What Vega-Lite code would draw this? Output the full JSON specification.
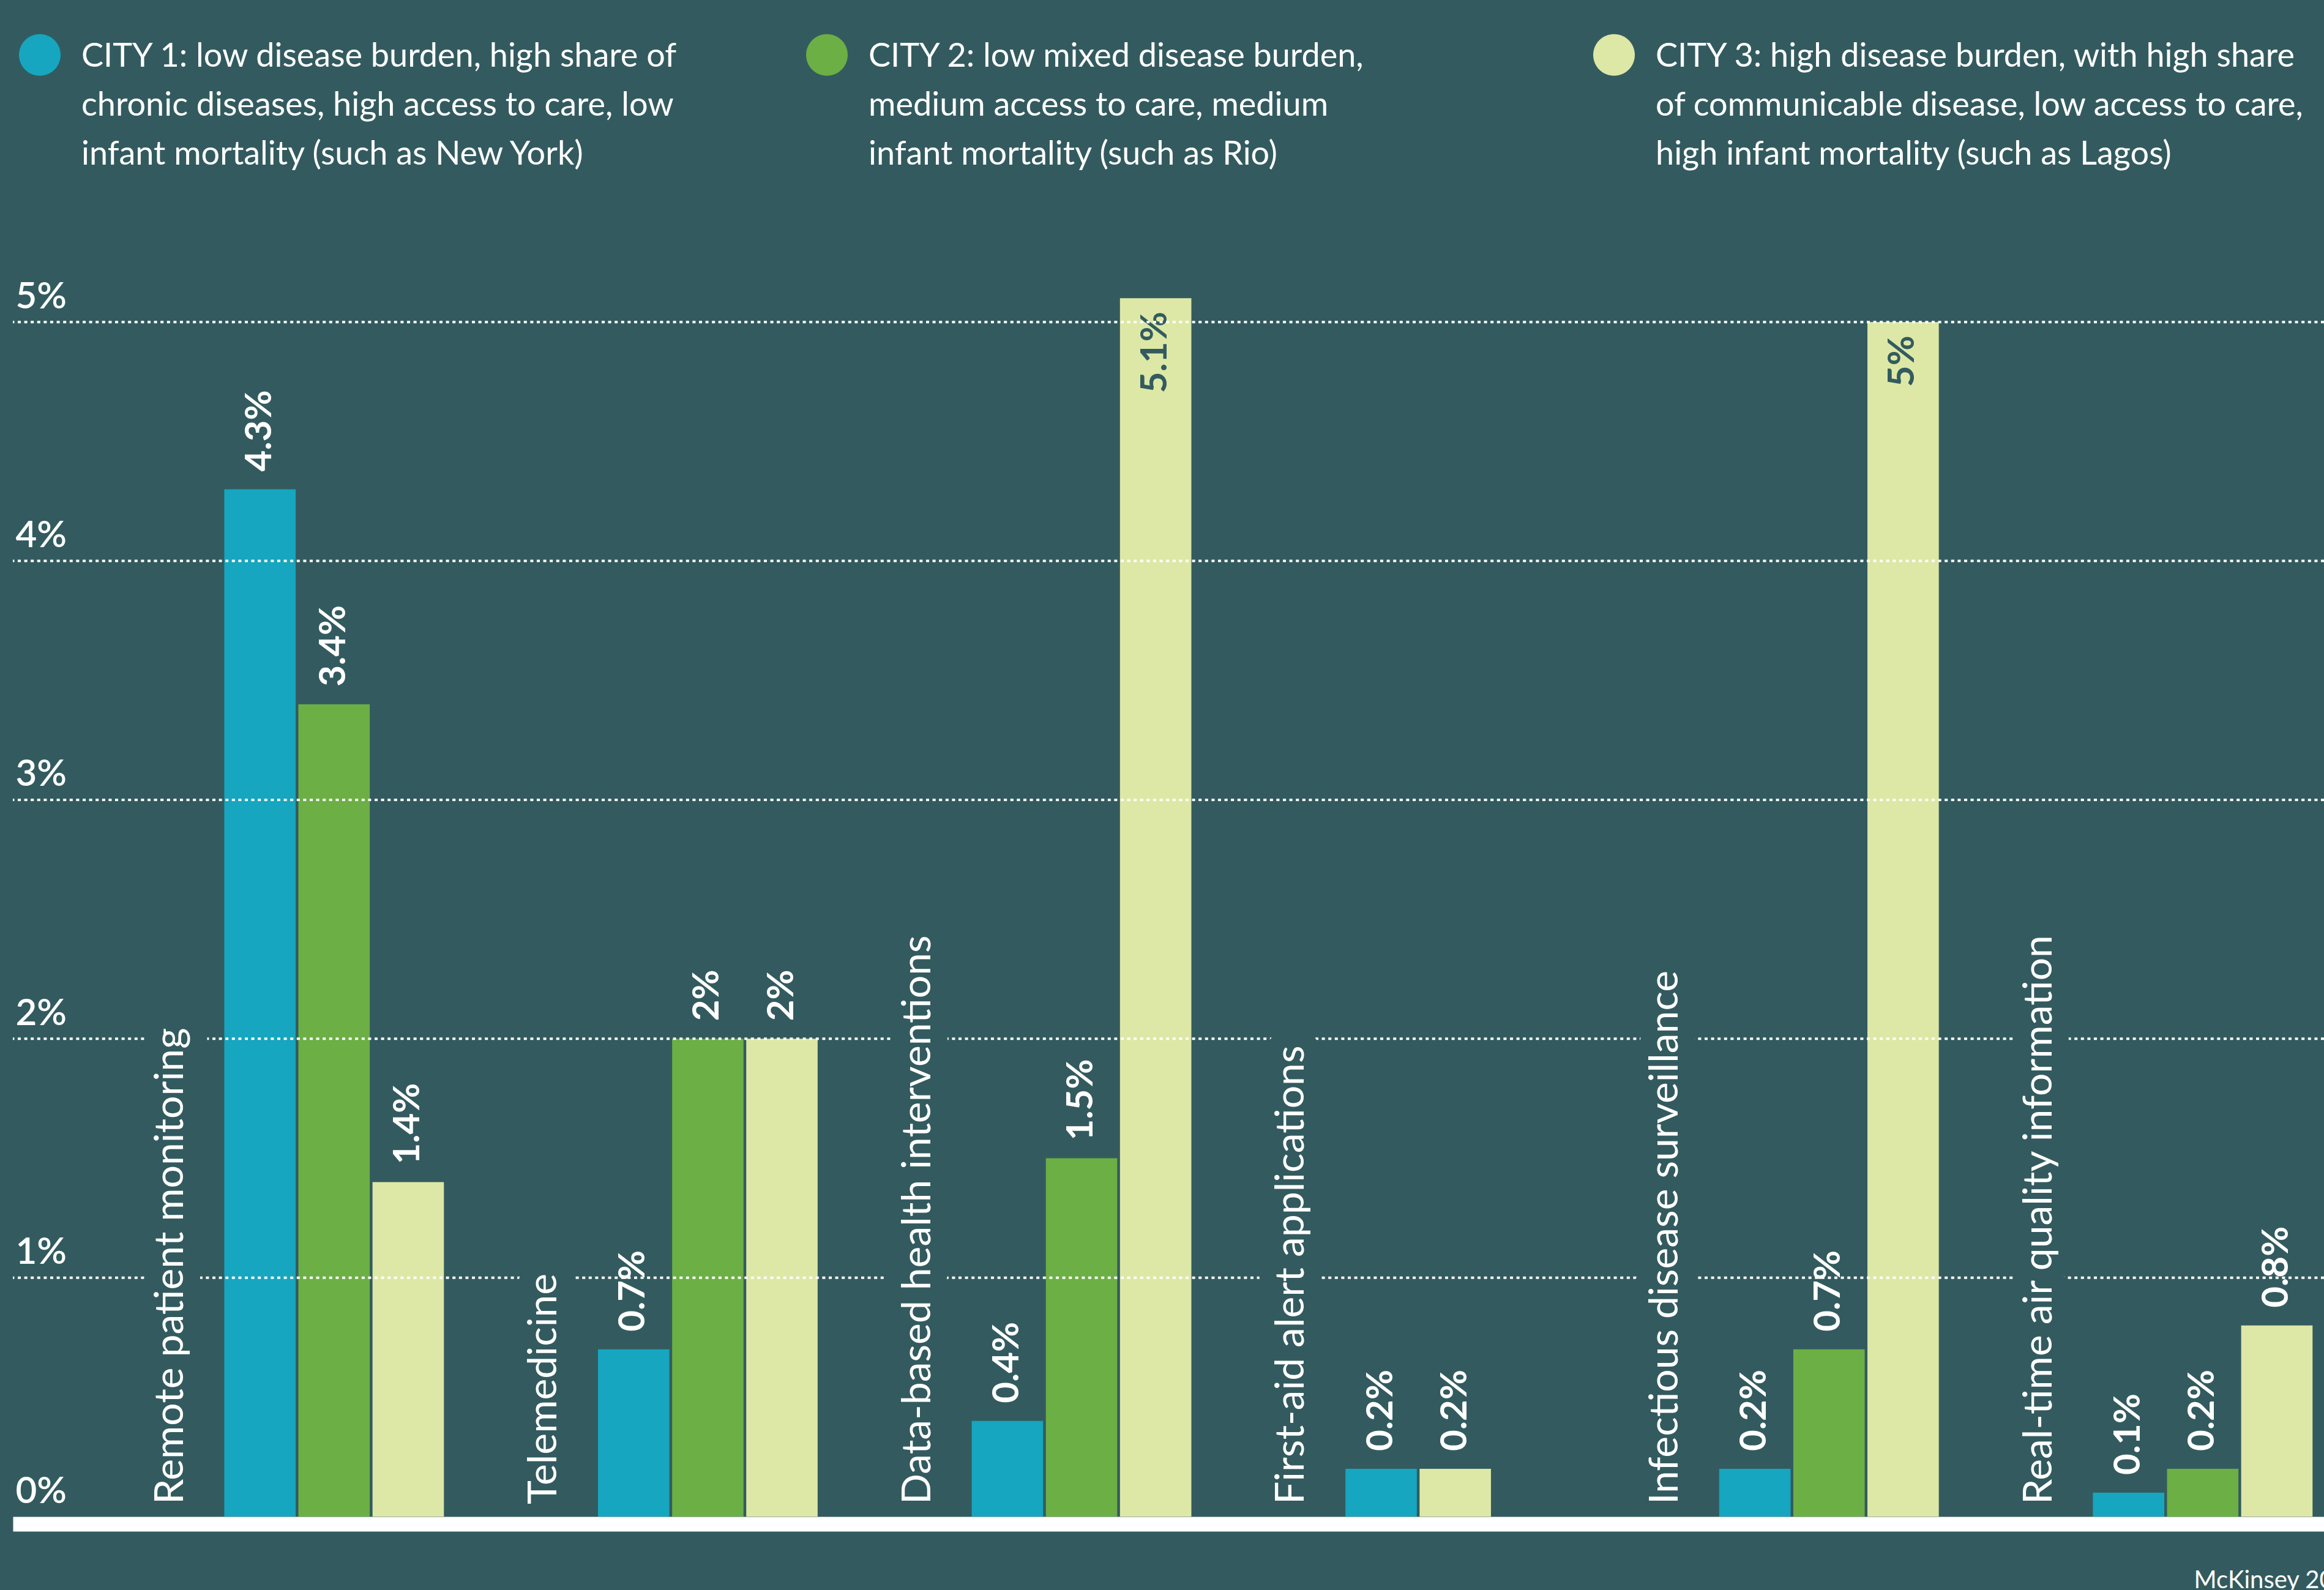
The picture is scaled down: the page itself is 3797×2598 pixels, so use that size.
{
  "$schema": "https://vega.github.io/schema/vega-lite/v6.json",
  "width": 3776,
  "height": 2147,
  "autosize": {"type": "none"},
  "padding": {"left": 21, "top": 331, "right": 0, "bottom": 120},
  "background": "#335B5F",
  "config": {"view": {"stroke": null}, "font": "Lato"},
  "title": {"text": "McKinsey 2018", "orient": "bottom", "anchor": "end", "frame": "group", "font": "Lato", "fontSize": 40, "fontWeight": "normal", "color": "white", "offset": 73, "dx": 62},
  "datasets": {
    "bars": [
      {"category": "Remote patient monitoring", "city": "CITY 1", "value": 0.043},
      {"category": "Remote patient monitoring", "city": "CITY 2", "value": 0.034},
      {"category": "Remote patient monitoring", "city": "CITY 3", "value": 0.014},
      {"category": "Telemedicine", "city": "CITY 1", "value": 0.007},
      {"category": "Telemedicine", "city": "CITY 2", "value": 0.02},
      {"category": "Telemedicine", "city": "CITY 3", "value": 0.02},
      {"category": "Data-based health interventions", "city": "CITY 1", "value": 0.004},
      {"category": "Data-based health interventions", "city": "CITY 2", "value": 0.015},
      {"category": "Data-based health interventions", "city": "CITY 3", "value": 0.051},
      {"category": "First-aid alert applications", "city": "CITY 1", "value": 0.002},
      {"category": "First-aid alert applications", "city": "CITY 3", "value": 0.002},
      {"category": "Infectious disease surveillance", "city": "CITY 1", "value": 0.002},
      {"category": "Infectious disease surveillance", "city": "CITY 2", "value": 0.007},
      {"category": "Infectious disease surveillance", "city": "CITY 3", "value": 0.05},
      {"category": "Real-time air quality information", "city": "CITY 1", "value": 0.001},
      {"category": "Real-time air quality information", "city": "CITY 2", "value": 0.002},
      {"category": "Real-time air quality information", "city": "CITY 3", "value": 0.008}
    ],
    "grid": [{"v": 0.01}, {"v": 0.02}, {"v": 0.03}, {"v": 0.04}, {"v": 0.05}]
  },
  "layer": [
    {
      "data": {"name": "bars"},
      "transform": [
        {"window": [{"op": "row_number", "as": "slot"}], "groupby": ["category"], "sort": [{"field": "city"}]}
      ],
      "encoding": {
        "x": {
          "field": "category", "type": "nominal", "title": null,
          "scale": {"type": "band", "domain": ["Remote patient monitoring", "Telemedicine", "Data-based health interventions", "First-aid alert applications", "Infectious disease surveillance", "Real-time air quality information"], "paddingInner": 0.214, "paddingOuter": 0.199, "align": 0.923},
          "axis": {"labels": false, "ticks": false, "grid": false, "domain": true, "domainColor": "white", "domainWidth": 24, "offset": 12, "title": null, "zindex": 1}
        },
        "xOffset": {"field": "slot", "type": "ordinal", "scale": {"type": "band", "domain": [0, 1, 2, 3], "paddingInner": 0.037, "paddingOuter": 0}},
        "y": {
          "field": "value", "type": "quantitative", "title": null,
          "scale": {"domain": [0, 0.055], "nice": false, "zero": true},
          "axis": {"values": [0, 0.01, 0.02, 0.03, 0.04, 0.05], "format": ".0%", "grid": false, "domain": false, "ticks": false, "tickSize": 0, "labelAlign": "left", "labelBaseline": "alphabetic", "labelPadding": -4, "labelOffset": -23, "labelFont": "Lato", "labelFontSize": 60, "labelFontWeight": 600, "labelColor": "white", "labelOverlap": false, "labelBound": false, "title": null, "zindex": 1}
        }
      },
      "layer": [
        {
          "mark": {"type": "bar"},
          "encoding": {
            "color": {
              "field": "city", "type": "nominal",
              "scale": {"domain": ["CITY 1", "CITY 2", "CITY 3"], "range": ["#16A6BF", "#6CAF45", "#DDE8A6"]},
              "legend": {
                "orient": "none", "legendX": 10, "legendY": -299, "direction": "horizontal", "columns": 3, "gridAlign": "all", "columnPadding": 124, "padding": 0, "title": null,
                "symbolType": "M-1,0.7A1,1,0,1,1,1,0.7A1,1,0,1,1,-1,0.7Z", "symbolSize": 4624, "symbolStrokeWidth": 0, "symbolOpacity": 1,
                "labelFont": "Lato", "labelFontSize": 54, "labelColor": "white", "labelLimit": 3000, "labelOffset": 34, "labelBaseline": "top",
                "labelExpr": "datum.value == 'CITY 1' ? ['CITY 1: low disease burden, high share of', 'chronic diseases, high access to care, low', 'infant mortality (such as New York)'] : datum.value == 'CITY 2' ? ['CITY 2: low mixed disease burden,', 'medium access to care, medium', 'infant mortality (such as Rio)'] : ['CITY 3: high disease burden, with high share', 'of communicable disease, low access to care,', 'high infant mortality (such as Lagos)']",
                "encode": {"labels": {"update": {"lineHeight": {"value": 80}}}}
              }
            }
          }
        },
        {
          "transform": [{"filter": "datum.value < 0.045"}],
          "mark": {"type": "text", "angle": 270, "align": "left", "baseline": "middle", "dx": 29, "font": "Lato", "fontSize": 60, "fontWeight": "bold", "color": "white"},
          "encoding": {"text": {"field": "value", "type": "quantitative", "format": ".1~%"}}
        },
        {
          "transform": [{"filter": "datum.value >= 0.045"}],
          "mark": {"type": "text", "angle": 270, "align": "right", "baseline": "middle", "dx": -22, "font": "Lato", "fontSize": 60, "fontWeight": "bold", "color": "#335B5F"},
          "encoding": {"text": {"field": "value", "type": "quantitative", "format": ".1~%"}}
        }
      ]
    },
    {
      "data": {"name": "grid"},
      "mark": {"type": "rule", "color": "white", "strokeWidth": 4, "strokeDash": [5, 5.6]},
      "encoding": {"y": {"field": "v", "type": "quantitative", "title": null, "scale": {"domain": [0, 0.055], "nice": false, "zero": true}}}
    },
    {
      "data": {"name": "bars"},
      "transform": [{"aggregate": [{"op": "count", "as": "n"}], "groupby": ["category"]}],
      "encoding": {
        "x": {
          "field": "category", "type": "nominal", "title": null,
          "scale": {"type": "band", "domain": ["Remote patient monitoring", "Telemedicine", "Data-based health interventions", "First-aid alert applications", "Infectious disease surveillance", "Real-time air quality information"], "paddingInner": 0.214, "paddingOuter": 0.199, "align": 0.923},
          "axis": {"labels": false, "ticks": false, "grid": false, "domain": true, "domainColor": "white", "domainWidth": 24, "offset": 12, "title": null, "zindex": 1}
        },
        "xOffset": {"datum": 0, "type": "ordinal", "scale": {"type": "band", "domain": [0, 1, 2, 3], "paddingInner": 0.037, "paddingOuter": 0}},
        "y": {"datum": 0, "type": "quantitative", "title": null},
        "text": {"field": "category", "type": "nominal"}
      },
      "layer": [
        {"mark": {"type": "text", "angle": 270, "align": "left", "baseline": "alphabetic", "dx": 20, "dy": -5, "font": "Lato", "fontSize": 66, "color": "#335B5F", "stroke": "#335B5F", "strokeWidth": 56, "strokeJoin": "round"}},
        {"mark": {"type": "text", "angle": 270, "align": "left", "baseline": "alphabetic", "dx": 20, "dy": -5, "font": "Lato", "fontSize": 66, "color": "white"}}
      ]
    }
  ]
}
